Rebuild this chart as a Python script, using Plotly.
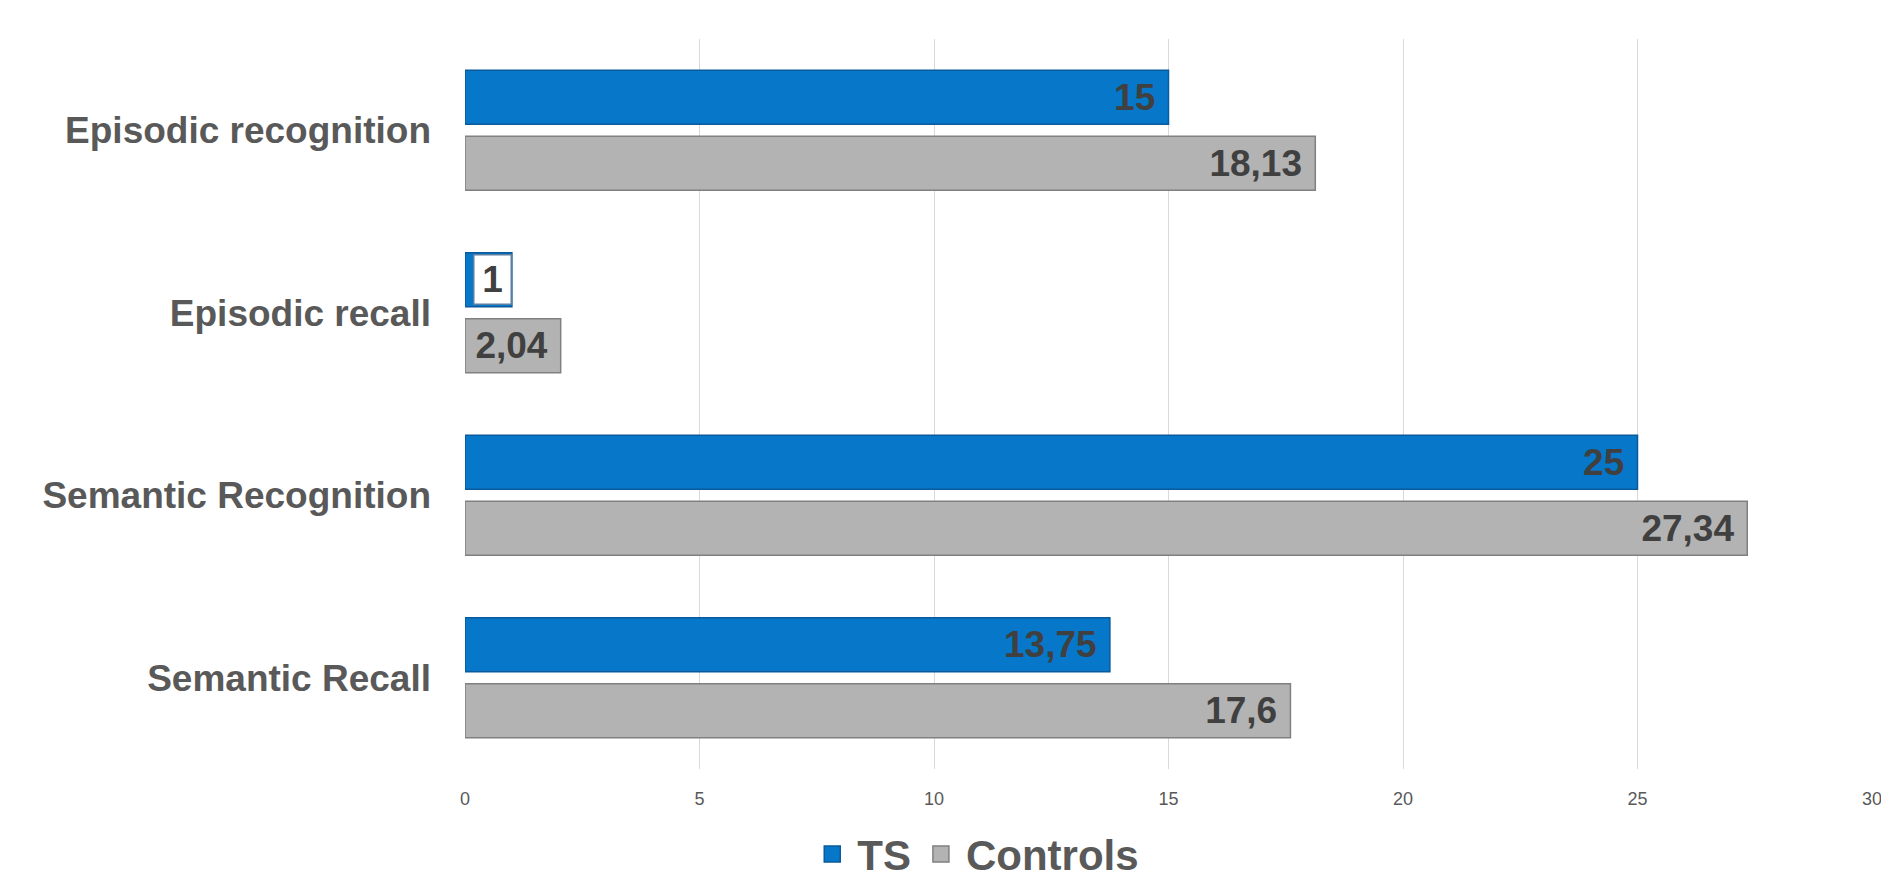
import plotly.graph_objects as go

categories = ["Episodic recognition", "Episodic recall", "Semantic Recognition", "Semantic Recall"]
ts_values = [15, 1, 25, 13.75]
control_values = [18.13, 2.04, 27.34, 17.6]
series_names = ["TS", "Controls"]
x_ticks = [0, 5, 10, 15, 20, 25, 30]


def fmt(v):
    return f"{v:g}".replace(".", ",")


FONT = "Liberation Sans, Arial, sans-serif"
LABEL_COLOR = "#404040"
AXIS_COLOR = "#595959"
PAD = "\u00a0"
TS_COLOR, TS_EDGE = "#0677C9", "#0A5A9C"
CT_COLOR, CT_EDGE = "#B3B3B3", "#808080"

# the smallest TS bar gets its label in a white box (annotation) instead of inside text
ts_text = [fmt(v) + PAD if v >= 2 else "" for v in ts_values]
ctrl_text = [fmt(v) + PAD for v in control_values]

fig = go.Figure()
fig.add_trace(go.Bar(
    name=series_names[0], y=categories, x=ts_values, orientation="h",
    marker=dict(color=TS_COLOR, line=dict(color=TS_EDGE, width=1.5)),
    text=ts_text, textposition="inside", insidetextanchor="end",
    textfont=dict(family=FONT, size=37, color=LABEL_COLOR, weight="bold"),
    cliponaxis=False, showlegend=False,
))
fig.add_trace(go.Bar(
    name=series_names[1], y=categories, x=control_values, orientation="h",
    marker=dict(color=CT_COLOR, line=dict(color=CT_EDGE, width=1.5)),
    text=ctrl_text, textposition="inside", insidetextanchor="end",
    textfont=dict(family=FONT, size=37, color=LABEL_COLOR, weight="bold"),
    cliponaxis=False, showlegend=False,
))
# legend entries with larger square symbols
for name, col, edge in [(series_names[0], TS_COLOR, TS_EDGE), (series_names[1], CT_COLOR, CT_EDGE)]:
    fig.add_trace(go.Scatter(
        name=name, x=[None], y=[None], mode="markers",
        marker=dict(symbol="square", size=20, color=col, line=dict(color=edge, width=1.5)),
        showlegend=True,
    ))

for i, v in enumerate(ts_values):
    if v < 2:
        fig.add_annotation(
            x=v, y=categories[i], xref="x", yref="y",
            text="<b>" + fmt(v) + "</b>", showarrow=False,
            xanchor="right", yanchor="middle", yshift=33,
            font=dict(family=FONT, size=37, color=LABEL_COLOR),
            bgcolor="white", bordercolor="#5A7FA0", borderwidth=1.5,
            width=36, height=48, borderpad=0,
        )

fig.update_layout(
    width=1881, height=878,
    margin=dict(l=465, r=9, t=39, b=109, autoexpand=False),
    paper_bgcolor="white", plot_bgcolor="white",
    barmode="group", bargap=0.277, bargroupgap=0.18,
    separators=",.",
    font=dict(family=FONT, color=AXIS_COLOR),
    showlegend=True,
    legend=dict(
        orientation="h", x=0.363, xanchor="center",
        yref="container", y=0.027, yanchor="middle",
        font=dict(family=FONT, size=42, color=AXIS_COLOR, weight="bold"),
        traceorder="normal", itemwidth=40, itemsizing="trace",
    ),
    xaxis=dict(
        range=[0, 30], tickvals=x_ticks, showgrid=True, gridcolor="#D9D9D9", gridwidth=1.3,
        zeroline=False, showline=False, ticks="", ticklabeloverflow="allow",
        tickfont=dict(family=FONT, size=18, color=AXIS_COLOR), ticklabelstandoff=17,
    ),
    yaxis=dict(
        autorange="reversed", showgrid=False, zeroline=False, showline=False, ticks="",
        tickfont=dict(family=FONT, size=37, color=AXIS_COLOR, weight="bold"),
        ticklabelstandoff=33,
    ),
)

fig.write_html("out.html")
